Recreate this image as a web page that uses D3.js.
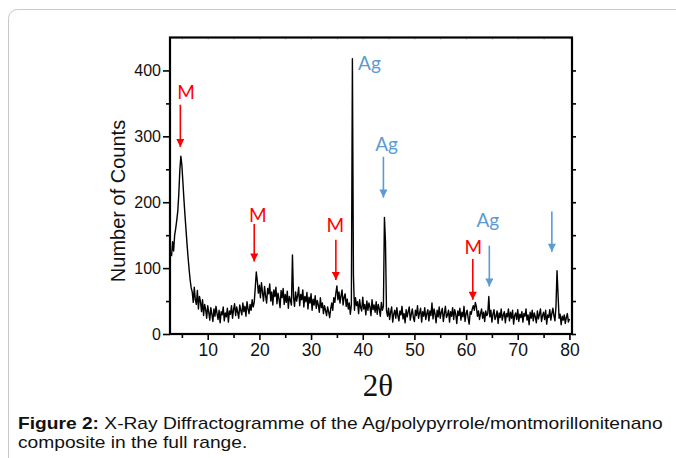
<!DOCTYPE html>
<html>
<head>
<meta charset="utf-8">
<script src="https://cdn.jsdelivr.net/npm/d3@7"></script>
<style>
  body { margin: 0; background: #fff; }
  svg { display: block; }
</style>
</head>
<body>
<div id="chart"></div>
<script>
// scan: first angle and step of the counts (degrees 2theta)
const startAngle = 3.0;
const stepAngle = 0.2;

// number of counts, one row = 2 degrees (10 steps)
const counts = [
    118, 140, 126, 150, 160, 172, 186, 212, 248, 270,   // 3
    256, 230, 204, 180, 158, 136, 116, 98, 82, 70,      // 5
    64, 48, 71, 52, 45, 66, 38, 57, 49, 34,             // 7
    52, 28, 45, 37, 24, 43, 33, 21, 40, 30,             // 9
    19, 38, 27, 42, 31, 22, 36, 17, 34, 29,             // 11
    41, 20, 32, 26, 39, 18, 35, 30, 43, 24,             // 13
    37, 46, 28, 41, 33, 24, 44, 36, 29, 47,             // 15
    34, 42, 27, 49, 38, 31, 45, 36, 52, 41,             // 17
    48, 70, 94, 80, 62, 74, 55, 78, 63, 50,             // 19
    72, 58, 47, 69, 61, 76, 50, 64, 44, 67,             // 21
    57, 71, 46, 62, 53, 40, 66, 55, 69, 45,             // 23
    60, 48, 65, 39, 57, 51, 44, 120, 56, 42,            // 25
    64, 50, 58, 71, 43, 60, 52, 67, 41, 57,             // 27
    49, 63, 38, 56, 47, 61, 36, 53, 44, 58,             // 29
    39, 51, 44, 33, 55, 40, 47, 31, 43, 36,             // 31
    28, 41, 34, 25, 38, 47, 36, 55, 48, 62,             // 33
    73, 52, 64, 47, 58, 67, 44, 56, 61, 42,             // 35
    53, 38, 47, 30, 44, 418, 90, 36, 55, 43,            // 37
    49, 31, 52, 40, 35, 56, 38, 45, 29, 50,             // 39
    36, 47, 41, 28, 52, 37, 44, 33, 49, 30,             // 41
    45, 38, 27, 48, 36, 42, 177, 140, 35, 27,           // 43
    39, 22, 33, 41, 18, 30, 36, 24, 40, 28,             // 45
    20, 35, 29, 42, 23, 31, 17, 37, 26, 34,             // 47
    41, 21, 30, 38, 25, 19, 36, 28, 43, 24,             // 49
    32, 39, 18, 34, 27, 40, 22, 31, 37, 20,             // 51
    35, 28, 47, 23, 38, 30, 17, 36, 26, 41,             // 53
    24, 33, 39, 19, 31, 42, 25, 29, 36, 18,             // 55
    34, 27, 40, 22, 37, 30, 16, 35, 28, 39,             // 57
    21, 33, 26, 42, 19, 31, 36, 24, 15, 34,             // 59
    30, 38, 43, 36, 48, 41, 27, 35, 22, 31,             // 61
    38, 24, 33, 19, 35, 28, 31, 57, 26, 36,             // 63
    18, 30, 37, 22, 27, 35, 16, 32, 25, 38,             // 65
    21, 29, 34, 17, 31, 26, 38, 20, 33, 24,             // 67
    36, 15, 28, 32, 22, 37, 19, 30, 25, 34,             // 69
    18, 31, 27, 38, 21, 29, 14, 33, 24, 36,             // 71
    20, 32, 26, 17, 35, 23, 30, 38, 19, 28,             // 73
    33, 22, 36, 15, 29, 25, 37, 21, 31, 39,             // 75
    28, 20, 42, 96, 60, 24, 30, 14, 27, 21,             // 77
    29, 16, 25, 31, 18, 23                              // 79 - 80
];

const xTicks = [10, 20, 30, 40, 50, 60, 70, 80];
const xMinorTicks = [5, 15, 25, 35, 45, 55, 65, 75];
const yTicks = [0, 100, 200, 300, 400];
const yMinorTicks = [50, 150, 250, 350];

// peak labels (angle = text anchor, count = baseline)
const peakLabels = [
    { text: "M", angle: 5.8, count: 357, color: "red", anchor: "middle" },
    { text: "M", angle: 19.7, count: 170, color: "red", anchor: "middle" },
    { text: "M", angle: 34.7, count: 155, color: "red", anchor: "middle" },
    { text: "Ag", angle: 39.1, count: 400, color: "blue", anchor: "start" },
    { text: "Ag", angle: 44.6, count: 278, color: "blue", anchor: "middle" },
    { text: "M", angle: 61.4, count: 122, color: "red", anchor: "middle" },
    { text: "Ag", angle: 64.2, count: 163, color: "blue", anchor: "middle" }
];

// arrows pointing down at the peaks
const peakArrows = [
    { angle: 4.7, from: 348, to: 284, color: "red" },
    { angle: 19.0, from: 167, to: 110, color: "red" },
    { angle: 34.8, from: 143, to: 82, color: "red" },
    { angle: 44.0, from: 269, to: 207, color: "blue" },
    { angle: 61.3, from: 114, to: 52, color: "red" },
    { angle: 64.5, from: 134, to: 72, color: "blue" },
    { angle: 76.6, from: 186, to: 125, color: "blue" }
];

const colors = { red: "#ff0000", blue: "#5b9bd5" };

let width = 676, height = 458;
let plot = { left: 170, right: 572, top: 37.5, bottom: 334 };

let svg = d3.select("#chart")
    .append("svg")
    .attr("width", width)
    .attr("height", height);

// rounded frame around the figure
svg.append("rect")
    .attr("x", 8.5).attr("y", 9.5)
    .attr("width", 720).attr("height", 520)
    .attr("rx", 9)
    .attr("fill", "none")
    .attr("stroke", "#c8c8c8");

let x = d3.scaleLinear().domain([2.7, 80.5]).range([plot.left, plot.right]);
let y = d3.scaleLinear().domain([0, 450]).range([plot.bottom, plot.top]);

let points = counts.map((c, i) => [startAngle + i * stepAngle, c]);

// arrow heads
let defs = svg.append("defs");
Object.keys(colors).forEach(function(k) {
    defs.append("marker")
        .attr("id", "head-" + k)
        .attr("viewBox", "0 0 10 10")
        .attr("refX", 10).attr("refY", 5)
        .attr("markerUnits", "userSpaceOnUse")
        .attr("markerWidth", 9).attr("markerHeight", 8)
        .attr("orient", "auto")
        .append("path")
        .attr("d", "M0,0 L10,5 L0,10 z")
        .attr("fill", colors[k]);
});

// axes
let axisFont = "'Liberation Sans', Arial, sans-serif";

let xAxis = svg.append("g")
    .attr("transform", "translate(0," + plot.bottom + ")")
    .call(d3.axisBottom(x).tickValues(xTicks).tickSize(6).tickPadding(4));
svg.append("g")
    .attr("transform", "translate(0," + plot.bottom + ")")
    .call(d3.axisBottom(x).tickValues(xMinorTicks).tickSize(4).tickFormat(""));
xAxis.selectAll("text")
    .attr("font-family", axisFont).attr("font-size", 17.5).attr("fill", "#111");

let yAxis = svg.append("g")
    .attr("transform", "translate(" + plot.left + ",0)")
    .call(d3.axisLeft(y).tickValues(yTicks).tickSize(7).tickPadding(2));
svg.append("g")
    .attr("transform", "translate(" + plot.left + ",0)")
    .call(d3.axisLeft(y).tickValues(yMinorTicks).tickSize(4).tickFormat(""));
yAxis.selectAll("text")
    .attr("font-family", axisFont).attr("font-size", 16).attr("fill", "#111");

// right axis: short outward ticks only
svg.append("g")
    .attr("transform", "translate(" + plot.right + ",0)")
    .call(d3.axisRight(y).tickValues(yTicks.concat(yMinorTicks)).tickSize(4).tickFormat(""));

// top axis: faint inward ticks
svg.append("g")
    .attr("class", "top-ticks")
    .attr("transform", "translate(0," + plot.top + ")")
    .call(d3.axisBottom(x).tickValues(xTicks.concat(xMinorTicks)).tickSize(2).tickFormat(""))
    .selectAll("line").attr("stroke", "#bbb");

svg.selectAll(".domain").remove();
svg.selectAll(".tick line").filter(function() { return !this.closest(".top-ticks"); })
    .attr("stroke", "#000").attr("stroke-width", 1.6);

// diffractogram
svg.append("path")
    .datum(points)
    .attr("fill", "none")
    .attr("stroke", "#000")
    .attr("stroke-width", 1.4)
    .attr("stroke-linejoin", "round")
    .attr("d", d3.line().x(d => x(d[0])).y(d => y(d[1])));

// plot frame
svg.append("rect")
    .attr("x", plot.left).attr("y", plot.top)
    .attr("width", plot.right - plot.left)
    .attr("height", plot.bottom - plot.top)
    .attr("fill", "none")
    .attr("stroke", "#000")
    .attr("stroke-width", 2.2);

// annotations
svg.selectAll(".peak-arrow")
    .data(peakArrows)
    .enter()
    .append("line")
    .attr("class", "peak-arrow")
    .attr("x1", d => x(d.angle)).attr("x2", d => x(d.angle))
    .attr("y1", d => y(d.from)).attr("y2", d => y(d.to))
    .attr("stroke", d => colors[d.color])
    .attr("stroke-width", 1.6)
    .attr("marker-end", d => "url(#head-" + d.color + ")");

svg.selectAll(".peak-label")
    .data(peakLabels)
    .enter()
    .append("text")
    .attr("class", "peak-label")
    .attr("x", d => x(d.angle))
    .attr("y", d => y(d.count))
    .attr("text-anchor", d => d.anchor)
    .attr("font-family", "Lato, 'Open Sans', sans-serif")
    .attr("font-size", 19)
    .attr("fill", d => colors[d.color])
    .text(d => d.text);

// axis titles
svg.append("text")
    .attr("transform", "translate(125,201) rotate(-90)")
    .attr("text-anchor", "middle")
    .attr("font-family", axisFont)
    .attr("font-size", 20)
    .attr("fill", "#111")
    .text("Number of Counts");

svg.append("text")
    .attr("x", 378).attr("y", 396)
    .attr("text-anchor", "middle")
    .attr("font-family", "'Liberation Serif', 'Times New Roman', serif")
    .attr("font-size", 31)
    .attr("fill", "#111")
    .text("2θ");

// caption (the source figure is a bit stretched sideways)
let caption = svg.append("g")
    .attr("transform", "translate(18,0) scale(1.2,1)")
    .attr("font-family", axisFont)
    .attr("font-size", 16)
    .attr("fill", "#111");
let line1 = caption.append("text").attr("x", 0).attr("y", 429);
line1.append("tspan").attr("font-weight", "bold").text("Figure 2:");
line1.append("tspan").text(" X-Ray Diffractogramme of the Ag/polypyrrole/montmorillonitenano");
caption.append("text").attr("x", 0).attr("y", 448).text("composite in the full range.");
</script>
</body>
</html>
